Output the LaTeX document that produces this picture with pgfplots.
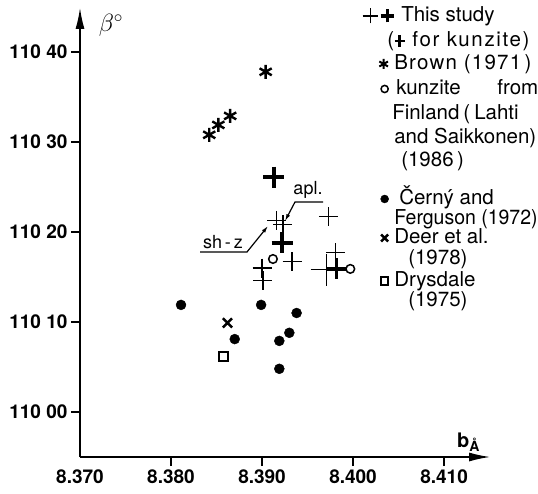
\documentclass[border=0pt]{standalone}
\usepackage{fontspec}
\setmainfont{TeX Gyre Heros}
\usepackage{pgfplots}
\pgfplotsset{compat=1.18}
\usetikzlibrary{arrows.meta}
\newcommand\bplus{\makebox[11pt]{\rule[4.5pt]{10pt}{2.8pt}\hspace{-6.4pt}\rule[0pt]{2.8pt}{11.8pt}\hspace{3.6pt}}}
\newcommand\lf{\fontsize{20.5}{24}\selectfont}
\newcommand\legl[2]{\lf\raisebox{-#1pt}{#2}}
\pgfplotsset{
  legmark/.style 2 args={legend image code/.code={\path[draw=none] (0pt,0pt) -- (31pt,0pt);
    \draw[##1, mark size=#1] plot coordinates {(22pt,#2)};}},
  legast/.style={legend image code/.code={\path[draw=none] (0pt,0pt) -- (31pt,0pt);
    \draw[##1, mark size=5pt, mark options={line width=2pt}] plot coordinates {(21pt,5.5pt)};}},
  legplus/.style={legend image code/.code={\path[draw=none] (0pt,0pt) -- (31pt,0pt);
    \draw[line width=1.3pt] (0pt,6pt) -- (15pt,6pt) (7.5pt,-1.5pt) -- (7.5pt,13.5pt);
    \draw[line width=3.2pt] (18pt,6pt) -- (31pt,6pt) (24.5pt,-0.5pt) -- (24.5pt,12.5pt);}},
  legempty/.style={legend image code/.code={\path[draw=none] (0pt,0pt) -- (31pt,0pt);}},
}
\begin{document}
\begin{tikzpicture}
\begin{axis}[
  scale only axis, width=410pt, height=449pt,
  xmin=8.370, xmax=8.41505, ymin=-5, ymax=44.889,
  axis lines=left, enlargelimits=false, clip=false,
  axis line style={line width=1.3pt, -{Latex[length=21pt,width=9pt]}},
  xtick={8.38,8.39,8.40,8.41}, xticklabels={8.380,8.390,8.400,8.410},
  extra x ticks={8.37}, extra x tick labels={8.370},
  extra x tick style={major tick length=0pt, xticklabel style={yshift=-9pt}},
  ytick={0,10,20,30,40}, yticklabels={110 00,110 10,110 20,110 30,110 40},
  tick align=outside, major tick length=9pt, minor tick num=0,
  tick style={line width=1.2pt, black},
  ticklabel style={font=\fontsize{19}{22}\selectfont\bfseries},
  every axis plot/.append style={black},
  legend cell align=left,
  legend style={at={(0.6878,1.0045)}, anchor=north west, draw=none, fill=none,
    inner sep=0pt, outer sep=0pt, row sep={23.75pt,between origins}, column sep=2pt,
    font=\fontsize{20.5}{24}\selectfont,
    cells={anchor=base west},
    nodes={inner sep=0pt, outer sep=0pt, text depth={}, text height={}}},
]
% This study (thin pluses)
\addplot[only marks, mark=+, mark size=9.5pt, mark options={line width=1.3pt}, legplus]
  coordinates {(8.3916,21.3) (8.3923,20.8) (8.3973,21.7) (8.3933,16.7)
               (8.3900,16.0) (8.3901,14.6) (8.3981,17.7)};
\addlegendentry{\lf\rule{0pt}{16pt}\hspace{4pt}This study}
\addlegendimage{legempty}
\addlegendentry{\legl{1.25}{\hspace{-10pt}{\addfontfeatures{LetterSpace=8}(\bplus\ for kunzite)}}}
% Brown (1971)
\addplot[only marks, mark=asterisk, mark size=7pt, mark options={line width=2.4pt}, legast]
  coordinates {(8.3904,37.8) (8.3842,30.8) (8.3852,31.9) (8.3865,32.9)};
\addlegendentry{\legl{0.5}{\hspace{-3pt}{\addfontfeatures{LetterSpace=6}Brown (1971\,)}}}
% kunzite from Finland
\addplot[only marks, mark=o, mark size=4.3pt, mark options={line width=1.5pt}, legmark={3.6pt}{4.25pt}]
  coordinates {(8.3912,17.0) (8.3997,15.9)};
\addlegendentry{\legl{1.75}{\hspace{-1pt}\makebox[142pt][s]{kunzite from}}}
\addlegendimage{legempty}
\addlegendentry{\legl{3}{\hspace{-5pt}Finland\hspace{4pt}(\hspace{4pt}Lahti}}
\addlegendimage{legempty}
\addlegendentry{\legl{3.25}{\hspace{-3pt}and Saikkonen)}}
\addlegendimage{legempty}
\addlegendentry{\legl{2.5}{\hspace{4pt}(1986\,)}}
% Cerny and Ferguson
\addplot[only marks, mark=*, mark size=5pt, legmark={4pt}{-10.75pt}]
  coordinates {(8.3811,11.9) (8.3899,11.9) (8.3938,11.0) (8.3870,8.1)
               (8.3930,8.8) (8.3919,7.9) (8.3919,4.8)};
\addlegendentry{\legl{16.75}{\hspace{2pt}Černý and}}
\addlegendimage{legempty}
\addlegendentry{\legl{13}{\hspace{-3pt}\scalebox{0.95}[1]{Ferguson (1972)}}}
% Deer et al.
\addplot[only marks, mark=x, mark size=6.5pt, mark options={line width=2.5pt}, legmark={5pt}{-2.25pt}]
  coordinates {(8.3862,9.9)};
\addlegendentry{\legl{8.25}{\hspace{-3pt}Deer et al.}}
\addlegendimage{legempty}
\addlegendentry{\legl{5.5}{\hspace{11pt}(1978)}}
% Drysdale
\addplot[only marks, mark=square, mark size=4.5pt, mark options={line width=2pt}, legmark={3.6pt}{2.25pt}]
  coordinates {(8.3858,6.2)};
\addlegendentry{\legl{3.75}{\hspace{-3pt}Drysdale}}
\addlegendimage{legempty}
\addlegendentry{\legl{0}{\hspace{11pt}(1975)}}
% kunzite, this study (bold pluses)
\addplot[forget plot, only marks, mark=+, mark size=10.5pt, mark options={line width=3.5pt}]
  coordinates {(8.3913,26.1) (8.3922,18.8) (8.3982,15.9)};
% large thin cross
\addplot[forget plot, only marks, mark=+, mark size=16pt, mark options={line width=1.3pt}]
  coordinates {(8.3971,15.8)};
\end{axis}
% axis labels
\node[font=\fontsize{24}{28}\selectfont] at (31pt,432pt) {$\beta^{\circ}$};
\node[font=\fontsize{20}{24}\selectfont\bfseries, anchor=base west, inner sep=0pt] at (377pt,10pt)
  {b\raisebox{-4pt}{\fontsize{14}{16}\selectfont Å}};
% annotations
\node[font=\fontsize{18}{20}\selectfont] at (228pt,267pt) {apl.};
\draw[line width=1.2pt, -{Latex[length=7pt,width=4pt]}] (243pt,255pt) -- (215pt,255pt) -- (205pt,236pt);
\node[font=\fontsize{18}{20}\selectfont] at (143pt,215pt) {sh\,-\,z};
\draw[line width=1.2pt, -{Latex[length=7pt,width=4pt]}] (120pt,205pt) -- (167pt,205pt) -- (188pt,231pt);
\pgfresetboundingbox
\path[use as bounding box] (-80pt,-36pt) rectangle (458pt,457pt);
\end{tikzpicture}
\end{document}
